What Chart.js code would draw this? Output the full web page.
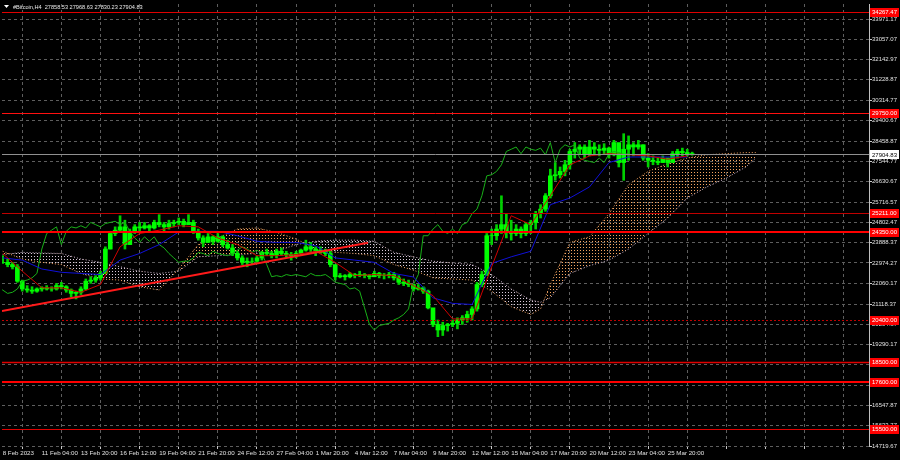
<!DOCTYPE html>
<html>
<head>
<meta charset="utf-8">
<script src="https://cdn.jsdelivr.net/npm/chart.js@4.4.0/dist/chart.umd.min.js"></script>
<style>
html, body { margin: 0; padding: 0; background: #000; }
#wrap { width: 900px; height: 460px; }
</style>
</head>
<body>
<div id="wrap"><canvas id="c" width="900" height="460"></canvas></div>
<script>
// one bar = 8 hours, bar 0 = 8 Feb 12:00
const xLabels = ['8 Feb 2023', '11 Feb 04:00', '13 Feb 20:00', '16 Feb 12:00', '19 Feb 04:00', '21 Feb 20:00',
    '24 Feb 12:00', '27 Feb 04:00', '1 Mar 20:00', '4 Mar 12:00', '7 Mar 04:00', '9 Mar 20:00',
    '12 Mar 12:00', '15 Mar 04:00', '17 Mar 20:00', '20 Mar 12:00', '23 Mar 04:00', '25 Mar 20:00'];

const yTicks = [33971.17, 33057.07, 32142.97, 31228.87, 30314.77, 29400.67, 28458.87, 27544.77, 26630.67,
    25716.57, 24802.47, 23888.37, 22974.27, 22060.17, 21118.37, 20204.37, 19290.17, 18376.07, 17461.97,
    16547.87, 15633.77, 14719.67];

const lows = [
    22950, 22800, 22700, 22100, 21700, 21650, 21600, 21650, 21700, 21750,
    21700, 21750, 21800, 21650, 21450, 21350, 21550, 21750, 22050, 22100,
    22200, 22500, 23600, 24200, 24400, 23600, 23800, 24300, 24400, 24500,
    24400, 24500, 24600, 24400, 24500, 24600, 24700, 24600, 24700, 24300,
    24000, 23700, 23900, 23800, 23900, 23700, 23600, 23300, 23100, 22900,
    22800, 22900, 23000, 23100, 23300, 23200, 23200, 23300, 23250, 23100,
    23200, 23300, 23500, 23400, 23300, 23400, 23300, 22800, 22200, 22300,
    22200, 22300, 22300, 22350, 22300, 22250, 22350, 22300, 22250, 22300,
    22200, 22000, 21950, 21900, 21700, 21750, 21600, 20900, 20100, 19650,
    19700, 19900, 20100, 20000, 20200, 20300, 20400, 20800, 21900, 22400,
    23800, 24000, 24300, 24100, 24000, 24200, 24100, 24200, 24300, 24500,
    25000, 25300, 25900, 26700, 26800, 26900, 27200, 27700, 27900, 27700,
    27800, 27900, 27800, 27900, 27700, 27800, 27300, 26700, 27600, 27800,
    28100, 27600, 27300, 27400, 27400, 27500, 27300, 27600, 27700, 27800,
    27800, 27830];
const highs = [
    23300, 23150, 23000, 22900, 22200, 21950, 21900, 21850, 21900, 21950,
    21900, 22050, 22100, 21950, 21800, 21700, 21900, 22250, 22350, 22400,
    22600, 23700, 24400, 24600, 25100, 24900, 24500, 24700, 24800, 24800,
    24700, 24900, 25150, 24800, 24900, 24900, 25000, 24950, 25150, 24900,
    24500, 24200, 24300, 24200, 24300, 24200, 24000, 23800, 23500, 23300,
    23200, 23200, 23300, 23500, 23600, 23500, 23600, 23650, 23500, 23450,
    23500, 23600, 24000, 23900, 23700, 23700, 23600, 23500, 22700, 22500,
    22450, 22550, 22500, 22600, 22500, 22450, 22600, 22550, 22500, 22550,
    22550, 22400, 22250, 22200, 22000, 22000, 21900, 21750, 20700, 20400,
    20300, 20250, 20400, 20500, 20600, 20800, 21000, 22100, 22600, 24300,
    24500, 24700, 26000, 25200, 24900, 24700, 24600, 24800, 24900, 25300,
    25600, 26100, 27200, 27500, 27300, 27600, 28100, 28400, 28300, 28300,
    28500, 28400, 28300, 28350, 28200, 28500, 28000, 28800, 28700, 28400,
    28500, 28300, 27900, 27800, 27700, 27800, 27700, 28000, 28100, 28150,
    28100, 27970];
const closes = [
    23000, 22900, 22800, 22150, 21800, 21750, 21700, 21800, 21850, 21800,
    21800, 21950, 21900, 21750, 21600, 21650, 21800, 22150, 22200, 22300,
    22500, 23600, 24300, 24450, 24600, 23800, 24400, 24600, 24550, 24650,
    24550, 24800, 24700, 24600, 24750, 24800, 24850, 24700, 24800, 24400,
    24100, 23900, 24150, 23950, 24150, 23800, 23650, 23400, 23200, 23000,
    23050, 23050, 23200, 23450, 23400, 23300, 23500, 23400, 23350, 23300,
    23400, 23550, 23700, 23600, 23450, 23550, 23400, 22900, 22350, 22400,
    22350, 22450, 22400, 22450, 22400, 22350, 22500, 22400, 22400, 22450,
    22300, 22100, 22050, 22000, 21800, 21850, 21700, 20950, 20200, 19950,
    20150, 20200, 20250, 20400, 20500, 20650, 20900, 22000, 22450, 24200,
    24200, 24500, 24700, 24400, 24300, 24500, 24300, 24700, 24800, 25200,
    25400, 26000, 26900, 26950, 27100, 27400, 28000, 28100, 28200, 27900,
    28200, 28100, 28050, 28150, 27850, 28400, 27500, 28100, 28300, 28200,
    28300, 27700, 27600, 27550, 27500, 27700, 27500, 27900, 28000, 27950,
    27860, 27904.83];

// Tenkan / Kijun read every 4 bars
const lineIdx = [0, 4, 8, 12, 16, 20, 24, 28, 32, 36, 40, 44, 48, 52, 56, 60, 64, 68,
    72, 76, 80, 84, 88, 92, 96, 100, 104, 108, 112, 116, 120, 124, 128, 132, 136, 140];
const tenkan = [23400, 22600, 21850, 21850, 21650, 22000, 23700, 24300, 24450, 24650, 24600, 24100,
    23800, 23300, 23300, 23350, 23500, 23000, 22400, 22450, 22400, 21950, 21500, 20450, 20450, 22800,
    25100, 24700, 26000, 27400, 27800, 27900, 27850, 27800, 27650, 27800];
const kijun = [23200, 23100, 22700, 22550, 22500, 22450, 23100, 23400, 23800, 24370, 24400, 24400,
    24200, 23950, 23900, 23900, 23750, 23200, 23100, 23000, 22500, 22340, 21400, 21150, 21100, 22950,
    23250, 23500, 25600, 25900, 26400, 27500, 27750, 27750, 27750, 27750];

// cloud (already shifted forward)
const cloudIdx = [0, 4, 8, 12, 16, 20, 24, 28, 32, 36, 40, 44, 48, 52, 56, 60, 64, 68, 72, 76, 80,
    84, 88, 92, 96, 100, 104, 108, 110, 112, 116, 120, 124, 128, 132, 136, 140, 144, 148, 152, 154];
const spanA = [23500, 23150, 23000, 22900, 22500, 22250, 22200, 21900, 21750, 22700, 23800, 24100,
    24500, 24550, 24350, 24050, 23600, 23450, 23400, 23300, 22900, 22650, 22300, 22250, 22200, 21700,
    21000, 20650, 20900, 22000, 23900, 24150, 25200, 26500, 27100, 27450, 27700, 27850, 27900, 27950, 27950];
const spanB = [23350, 23450, 23420, 23400, 23150, 23000, 22800, 22600, 22500, 22600, 23250, 23300,
    23350, 23400, 23500, 23800, 23950, 24000, 24000, 23950, 23450, 23250, 23050, 22970, 22900, 22450,
    21800, 21300, 21200, 21400, 22500, 22850, 23100, 23600, 24300, 25000, 25900, 26400, 26800, 27300, 27700];

const chikouShift = 13;
const trendIdx = [-0.15, 74.7];
const trendVal = [20810, 23880];

const levels = [34267.47, 29750.00, 25211.00, 24350.00, 20400.00, 18500.00, 17600.00, 15500.00];
const lastPrice = 27904.83;
const titleText = '#Bitcoin,H4  27858.53 27968.63 27830.23 27904.83';

const levelStyles = [
    { color: '#e00000', width: 1, dash: [] },
    { color: '#ff1010', width: 1, dash: [] },
    { color: '#c00000', width: 1, dash: [] },
    { color: '#ff0000', width: 2, dash: [] },
    { color: '#c00000', width: 1, dash: [2, 2] },
    { color: '#e00000', width: 1.5, dash: [] },
    { color: '#ff0000', width: 2, dash: [] },
    { color: '#e00000', width: 1, dash: [] }
];

const FONT = '"Liberation Sans", Arial, sans-serif';
const canvas = document.getElementById('c');
const ctx = canvas.getContext('2d');

function dots(color) {
    const p = document.createElement('canvas');
    p.width = 3; p.height = 3;
    const pc = p.getContext('2d');
    pc.fillStyle = color;
    pc.fillRect(1, 1, 1, 1);
    return ctx.createPattern(p, 'repeat');
}

const xTickPos = [];
for (let k = 0; k <= 176; k += 8) xTickPos.push(k);

const overlay = {
    id: 'overlay',
    beforeDraw(chart) {
        const c = chart.ctx;
        c.save();
        c.fillStyle = '#000';
        c.fillRect(0, 0, chart.width, chart.height);
        c.restore();
    },
    afterDraw(chart) {
        const c = chart.ctx;
        const a = chart.chartArea;
        const y = chart.scales.y;
        c.save();
        // current price line
        const py = Math.round(y.getPixelForValue(lastPrice)) + 0.5;
        c.strokeStyle = '#909090';
        c.lineWidth = 1;
        c.beginPath(); c.moveTo(a.left, py); c.lineTo(a.right, py); c.stroke();
        // horizontal levels
        levels.forEach((v, k) => {
            const s = levelStyles[k];
            const ly = Math.round(y.getPixelForValue(v)) + (s.width % 2 ? 0.5 : 0);
            c.strokeStyle = s.color;
            c.lineWidth = s.width;
            c.setLineDash(s.dash);
            c.beginPath(); c.moveTo(a.left, ly); c.lineTo(a.right, ly); c.stroke();
        });
        c.setLineDash([]);
        c.font = '6px ' + FONT;
        c.textBaseline = 'middle';
        c.textAlign = 'left';
        levels.forEach((v, k) => {
            const ly = Math.round(y.getPixelForValue(v));
            c.fillStyle = '#ff0000';
            c.fillRect(a.right + 1, ly - 4, 29, 9);
            c.fillStyle = '#ffffff';
            c.fillText(v.toFixed(2), a.right + 3, ly + 0.5);
        });
        c.fillStyle = '#ffffff';
        c.fillRect(a.right + 1, py - 4.5, 29, 9);
        c.fillStyle = '#000000';
        c.fillText(lastPrice.toFixed(2), a.right + 3, py + 0.5);
        // title
        c.fillStyle = '#ffffff';
        c.beginPath(); c.moveTo(4, 5); c.lineTo(9, 5); c.lineTo(6.5, 8); c.closePath(); c.fill();
        c.font = '5.6px ' + FONT;
        c.fillStyle = '#e8e8e8';
        c.fillText(titleText, 13, 7);
        c.restore();
    }
};

const candleWicks = highs.map((h, k) => ({ x: k, y: [lows[k], h] }));
const candleBodies = closes.map((cl, k) => ({ x: k, y: [k ? closes[k - 1] : cl, cl] }));

new Chart(ctx, {
    type: 'bar',
    data: {
        datasets: [
            {
                type: 'line', label: 'trend', order: 0,
                data: trendIdx.map((x, k) => ({ x: x, y: trendVal[k] })),
                borderColor: '#ff1a1a', borderWidth: 2, pointRadius: 0
            },
            {
                type: 'line', label: 'Tenkan', order: 1,
                data: lineIdx.map((x, k) => ({ x: x, y: tenkan[k] })),
                borderColor: '#d00000', borderWidth: 1, pointRadius: 0
            },
            {
                type: 'line', label: 'Kijun', order: 2,
                data: lineIdx.map((x, k) => ({ x: x, y: kijun[k] })),
                borderColor: '#1010d8', borderWidth: 1, pointRadius: 0
            },
            {
                type: 'line', label: 'Chikou', order: 3,
                data: closes.map((cl, k) => ({ x: k - chikouShift, y: cl })),
                borderColor: '#18b018', borderWidth: 1, pointRadius: 0
            },
            {
                label: 'bodies', order: 4, grouped: false,
                data: candleBodies, backgroundColor: '#00ff00', barThickness: 4
            },
            {
                label: 'wicks', order: 5, grouped: false,
                data: candleWicks, backgroundColor: '#00d000', barThickness: 2
            },
            {
                type: 'line', label: 'Span A', order: 6,
                data: cloudIdx.map((x, k) => ({ x: x, y: spanA[k] })),
                borderColor: '#f4a460', borderWidth: 1, borderDash: [1, 2], pointRadius: 0,
                fill: { target: '+1', above: dots('#f4a460'), below: dots('#d8c8d8') }
            },
            {
                type: 'line', label: 'Span B', order: 7,
                data: cloudIdx.map((x, k) => ({ x: x, y: spanB[k] })),
                borderColor: '#d8bfd8', borderWidth: 1, borderDash: [1, 2], pointRadius: 0
            }
        ]
    },
    options: {
        responsive: false,
        animation: false,
        devicePixelRatio: 1,
        layout: { padding: { left: 2, top: 4, right: 0, bottom: 0 } },
        plugins: { legend: { display: false }, tooltip: { enabled: false } },
        scales: {
            x: {
                type: 'linear',
                offset: false,
                min: -0.143,
                max: 177.17,
                afterBuildTicks: s => { s.ticks = xTickPos.map(v => ({ value: v })); },
                afterFit: s => { s.height = 14; },
                grid: { color: '#5e5e5e', tickColor: '#c8c8c8', tickLength: 3, drawTicks: true },
                border: { display: false, dash: [3, 3] },
                ticks: {
                    autoSkip: false, maxRotation: 0, align: 'start', padding: 1,
                    color: '#e0e0e0', font: { family: FONT, size: 6.2 },
                    callback: v => xLabels[Math.round(v / 8)] || ''
                }
            },
            y: {
                type: 'linear',
                position: 'right',
                min: 14719.67,
                max: 34647.5,
                afterBuildTicks: s => { s.ticks = yTicks.map(v => ({ value: v })); },
                afterFit: s => { s.width = 31; },
                grid: { color: '#5e5e5e', tickColor: '#c8c8c8', tickLength: 3, drawTicks: true },
                border: { display: true, color: '#c0c0c0', width: 1, dash: [3, 3] },
                ticks: {
                    crossAlign: 'near', padding: 0,
                    color: '#e0e0e0', font: { family: FONT, size: 6 },
                    callback: v => v.toFixed(2)
                }
            }
        }
    },
    plugins: [overlay]
});
</script>
</body>
</html>
